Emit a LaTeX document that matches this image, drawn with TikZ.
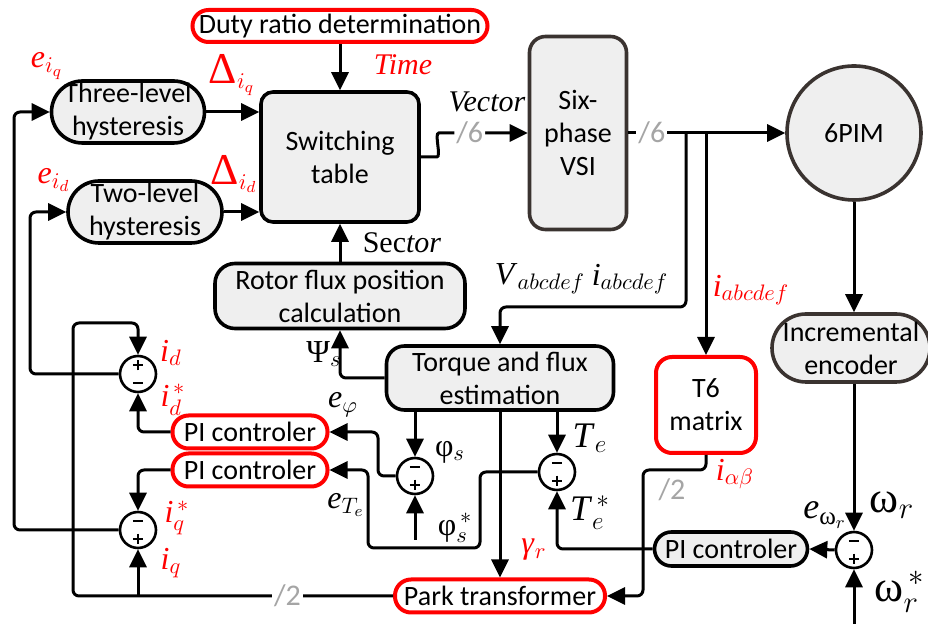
\documentclass[tikz,border=0pt]{standalone}
\usepackage{fix-cm}
\usepackage{amsmath}
\usepackage{fontspec}
\setmainfont{Liberation Serif}
\newfontfamily\boxfont{Carlito}
\usetikzlibrary{arrows.meta,positioning}

\definecolor{boxfill}{HTML}{EFEFEF}
\definecolor{edgegray}{HTML}{3A3330}
\definecolor{busgray}{HTML}{A5A5A5}

\begin{document}
\begin{tikzpicture}[x=0.5pt, y=-0.5pt, line width=1.5pt,
    >={Triangle[length=9pt,width=8.5pt]},
    block/.style={draw, line width=1.8pt, fill=boxfill, align=center, inner sep=0pt,
      font=\boxfont\fontsize{14}{16.5}\selectfont},
    redblock/.style={block, draw=red, fill=white, line width=2pt},
    sumj/.style={circle, draw, fill=white, line width=1.3pt, minimum size=18pt, inner sep=0pt},
    sumpm/.style={sumj, path picture={
      \draw[line width=1.2pt] ([shift={(-2.6pt,4.4pt)}]path picture bounding box.center) -- ++(5.2pt,0pt)
        ([shift={(0pt,1.8pt)}]path picture bounding box.center) -- ++(0pt,5.2pt)
        ([shift={(-2.6pt,-4.4pt)}]path picture bounding box.center) -- ++(5.2pt,0pt);}},
    summp/.style={sumj, path picture={
      \draw[line width=1.2pt] ([shift={(-2.6pt,4.4pt)}]path picture bounding box.center) -- ++(5.2pt,0pt)
        ([shift={(-2.6pt,-4.4pt)}]path picture bounding box.center) -- ++(5.2pt,0pt)
        ([shift={(0pt,-1.8pt)}]path picture bounding box.center) -- ++(0pt,-5.2pt);}},
    wire/.style={rounded corners=3pt},
    lab/.style={inner sep=0pt, font=\fontsize{16}{18}\selectfont},
    redlab/.style={lab, text=red},
    bus/.style={inner sep=1pt, fill=white, text=busgray, font=\boxfont\fontsize{15}{16}\selectfont}]
  \useasboundingbox (0,0) rectangle (928,624);

  % blocks
  \node[redblock, rounded corners=8pt, minimum width=147.5pt, minimum height=16pt] (duty) at (340,26) {Duty ratio determination};
  \node[block, rounded corners=6pt, minimum width=79pt, minimum height=65pt] (swtab) at (340,157) {Switching\\table};
  \node[block, rounded corners=15.5pt, minimum width=76.5pt, minimum height=31pt] (three) at (128,112) {Three-level\\hysteresis};
  \node[block, rounded corners=15.5pt, minimum width=77pt, minimum height=31pt] (two) at (145,212) {Two-level\\hysteresis};
  \node[block, draw=edgegray, rounded corners=8pt, minimum width=48.5pt, minimum height=96.5pt] (vsi) at (578,133) {Six-\\phase\\VSI};
  \node[block, draw=edgegray, circle, minimum size=67pt] (pim) at (854,133) {6PIM};
  \node[block, draw=edgegray, rounded corners=17pt, minimum width=79pt, minimum height=34pt] (enc) at (851,348) {Incremental\\encoder};
  \node[block, rounded corners=10pt, minimum width=125pt, minimum height=32.5pt] (rotor) at (340,296) {Rotor flux position\\calculation};
  \node[block, rounded corners=9pt, minimum width=113.5pt, minimum height=32pt] (torque) at (500,378) {Torque and flux\\estimation};
  \node[redblock, rounded corners=8pt, minimum width=50pt, minimum height=48pt] (tsix) at (706,405) {T6\\matrix};
  \node[redblock, rounded corners=8pt, minimum width=77.5pt, minimum height=16.5pt] (pid) at (250,432) {PI controler};
  \node[redblock, rounded corners=8pt, minimum width=77.5pt, minimum height=16.5pt] (piq) at (250,470) {PI controler};
  \node[block, rounded corners=8.5pt, minimum width=76.5pt, minimum height=17pt] (piw) at (731,549) {PI controler};
  \node[redblock, rounded corners=8pt, minimum width=105pt, minimum height=16.5pt] (park) at (500,596) {Park transformer};

  % summing junctions
  \node[sumpm] (sd) at (138,374) {};
  \node[summp] (sq) at (138,530) {};
  \node[summp] (sphi) at (415,476) {};
  \node[summp] (ste) at (557,472) {};
  \node[summp] (sw) at (854,550) {};

  \coordinate (tapv) at (686,133);
  \coordinate (tapi) at (706,133);
  \coordinate (lq) at (14,530);
  \coordinate (ld) at (30,374);
  \coordinate (pkl) at (73,596);
  \coordinate (pkt) at (73,323);
  \coordinate (phiref) at (415,540);
  \coordinate (wref) at (854,624);

  % connectors
  \draw[->] (duty) -- (swtab);
  \draw[->] (three.east) -- (three.east -| swtab.west);
  \draw[->] (two.east) -- (two.east -| swtab.west);
  \draw[->, wire] (swtab.east) -- ++(10,0) to[out=0,in=180] ++(14,-24) -- node[bus, pos=0.3] (bussw) {/6} (vsi.west);
  \draw[->] (vsi.east) -- node[bus, pos=0.15] (busvsi) {/6} (pim.west);
  \draw[->, wire] (tapv) |- (500,307) -- (torque.north);
  \draw[->] (tapi) -- (tsix.north);
  \draw[->] (pim.south) -- (pim.south |- enc.north);
  \draw[->] (enc.south -| sw) -- (sw.north);
  \draw[->] (wref) -- (sw.south);
  \draw[->] (sw.west) -- (piw.east);
  \draw[->, wire] (piw.west) -| (ste.south);
  \draw[->, wire] (torque.west) -| (rotor.south);
  \draw[->] (rotor.north) -- (rotor.north |- swtab.south);
  \draw[->] (torque.south -| sphi) -- (sphi.north);
  \draw[->] (torque.south -| ste) -- (ste.north);
  \draw[->] (torque.south) -- (park.north);
  \draw[->] (phiref) -- (sphi.south);
  \draw[->, wire] (sphi.west) -- (378,476) |- (pid.east);
  \draw[->, wire] (ste.west) -| (480,548) -- (368,548) |- (piq.east);
  \draw[->, wire] (tsix.south) |- (643,470) |- (park.east);
  \draw[->, wire] (pid.west) -| (sd.south);
  \draw[->, wire] (piq.west) -| (sq.north);
  \draw[->, wire] (sd.west) -- (ld) |- (two.west);
  \draw[->, wire] (sq.west) -- (lq) |- (three.west);
  \draw[->, wire] (park.west) -- node[bus, pos=0.33] (buspk) {/2} (pkl) -- (pkt) -| (sd.north);
  \draw[->] (sq.south |- park.west) -- (sq.south);

  % labels
  \node[redlab, font=\fontsize{15}{16}\selectfont] (ltime) at (403,65) {\textit{Time}};
  \node[lab, font=\fontsize{15}{16}\selectfont] (lvector) at (487,102) {\textit{Vector}};
  \node[lab, font=\fontsize{15}{16}\selectfont] (lsector) at (402,243) {Sec\textit{tor}};
  \node[redlab] (ldeltaq) at (232,75) {{\fontsize{22}{24}\selectfont Δ}$_{i_q}$};
  \node[redlab] (ldeltad) at (234,174) {{\fontsize{22}{24}\selectfont Δ}$_{i_d}$};
  \node[redlab] (leiq) at (47,66) {\textit{e}$_{i_q}$};
  \node[redlab] (leid) at (54,180) {\textit{e}$_{i_d}$};
  \node[lab] (lpsi) at (324,354) {Ψ$_s$};
  \node[lab] (lvabc) at (540,279) {\textit{V}$_{abcdef}$};
  \node[lab] (liabc) at (630,279) {\textit{i}$_{abcdef}$};
  \node[redlab] (liabcred) at (751,290) {\textit{i}$_{abcdef}$};
  \node[redlab] (lid) at (171,353) {\textit{i}$_d$};
  \node[redlab] (lidref) at (173,400) {\textit{i}$_d^{\,*}$};
  \node[redlab] (liqref) at (177,518) {\textit{i}$_q^{\,*}$};
  \node[redlab] (liq) at (171,563) {\textit{i}$_q$};
  \node[lab] (lephi) at (343,405) {\textit{e}$_{\varphi}$};
  \node[lab] (lphi) at (450,452) {φ$_s$};
  \node[lab] (lphiref) at (455,528) {φ$_s^{\,*}$};
  \node[lab] (lete) at (346,505) {\textit{e}$_{T_e}$};
  \node[lab, font=\fontsize{18}{20}\selectfont] (lte) at (590,438) {\textit{T}$_e$};
  \node[lab, font=\fontsize{18}{20}\selectfont] (lteref) at (590,513) {\textit{T}$_e^{\,*}$};
  \node[redlab] (lgamma) at (534,550) {\textit{γ}$_r$};
  \node[bus, fill=none] (bustsix) at (672,490) {/2};
  \node[redlab] (lialbe) at (735,474) {\textit{i}$_{\alpha\beta}$};
  \node[lab, font=\fontsize{18}{20}\selectfont] (lew) at (825,515) {\textit{e}$_{\text{ω}_r}$};
  \node[lab, font=\fontsize{22}{24}\selectfont] (lw) at (892,505) {ω$_r$};
  \node[lab, font=\fontsize{22}{24}\selectfont] (lwref) at (900,592) {ω$_r^{\,*}$};
\end{tikzpicture}
\end{document}
